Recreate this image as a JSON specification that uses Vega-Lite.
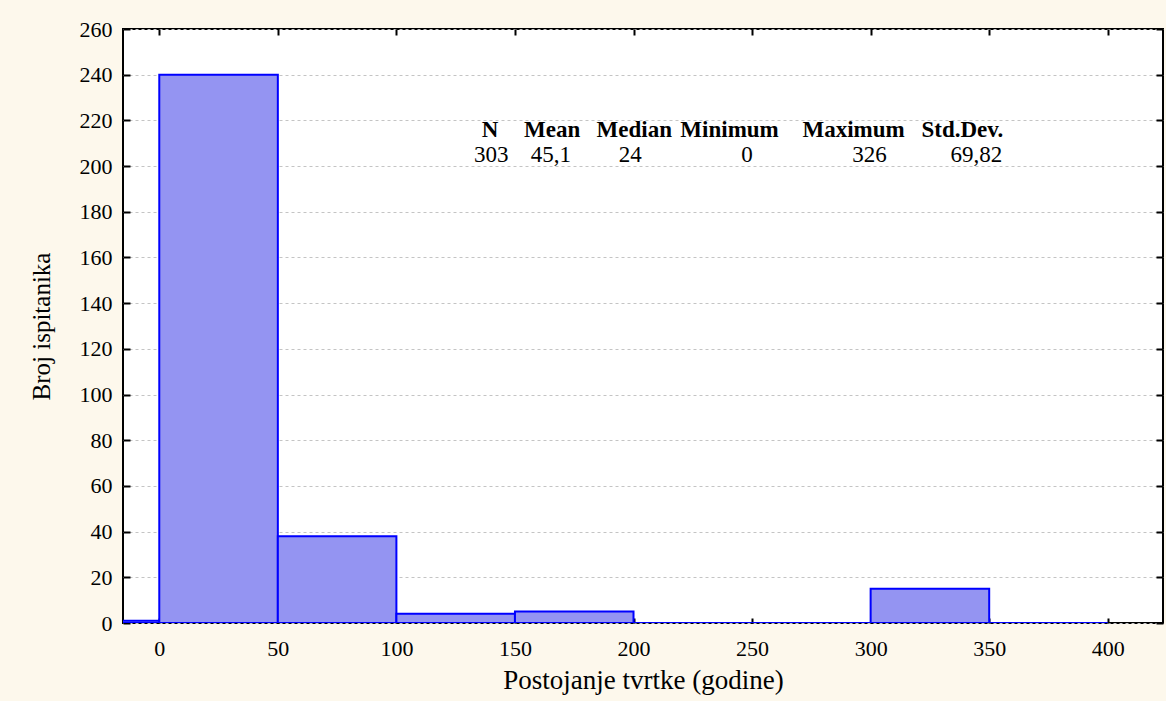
{
  "$schema": "https://vega.github.io/schema/vega-lite/v6.json",
  "width": 1040,
  "height": 594,
  "autosize": {"type": "none"},
  "padding": {"left": 123, "top": 29, "right": 3, "bottom": 78},
  "background": "#fdf8ec",
  "datasets": {
    "bins": [
      {"bin_start": -50, "bin_end": 0, "count": 1},
      {"bin_start": 0, "bin_end": 50, "count": 240},
      {"bin_start": 50, "bin_end": 100, "count": 38},
      {"bin_start": 100, "bin_end": 150, "count": 4},
      {"bin_start": 150, "bin_end": 200, "count": 5},
      {"bin_start": 200, "bin_end": 250, "count": 0},
      {"bin_start": 250, "bin_end": 300, "count": 0},
      {"bin_start": 300, "bin_end": 350, "count": 15},
      {"bin_start": 350, "bin_end": 400, "count": 0}
    ]
  },
  "config": {
    "view": {"fill": "white", "stroke": "black", "strokeWidth": 2},
    "axis": {
      "labelFont": "Liberation Serif",
      "labelFontSize": 22,
      "labelColor": "black",
      "titleFont": "Liberation Serif",
      "titleFontWeight": "normal",
      "titleColor": "black",
      "tickColor": "black",
      "tickWidth": 2,
      "domain": false,
      "gridColor": "#c4c4c4",
      "gridDash": [3, 3],
      "gridWidth": 1
    }
  },
  "resolve": {"axis": {"x": "independent", "y": "independent"}},
  "layer": [
    {
      "data": {"name": "bins"},
      "mark": {"type": "bar", "clip": true, "fill": "#9494f2", "stroke": "#0000ff", "strokeWidth": 2},
      "encoding": {
        "x": {
          "field": "bin_start", "type": "quantitative",
          "scale": {"domain": [-15.3, 423.3], "nice": false, "zero": false},
          "axis": {"orient": "bottom", "values": [0, 50, 100, 150, 200, 250, 300, 350, 400], "offset": -5, "tickSize": 5, "labelPadding": 15, "grid": false, "labelFlush": false, "title": "Postojanje tvrtke (godine)", "titleFontSize": 27, "titlePadding": 8}
        },
        "x2": {"field": "bin_end"},
        "y": {
          "field": "count", "type": "quantitative",
          "scale": {"domain": [0, 260], "nice": false},
          "axis": {"orient": "left", "values": [0, 20, 40, 60, 80, 100, 120, 140, 160, 180, 200, 220, 240, 260], "offset": -7, "tickSize": 7, "labelPadding": 11, "grid": true, "labelFlush": false, "title": "Broj ispitanika", "titleFontSize": 25, "titlePadding": 25}
        },
        "y2": {"datum": 0}
      }
    },
    {
      "data": {"name": "bins"},
      "mark": {"type": "bar", "fillOpacity": 0, "strokeOpacity": 0},
      "encoding": {
        "x": {
          "field": "bin_start", "type": "quantitative",
          "scale": {"domain": [-15.3, 423.3], "nice": false, "zero": false},
          "axis": {"orient": "top", "values": [0, 50, 100, 150, 200, 250, 300, 350, 400], "offset": -6, "tickSize": 6, "labels": false, "grid": false, "title": null}
        },
        "x2": {"field": "bin_end"},
        "y": {
          "field": "count", "type": "quantitative",
          "scale": {"domain": [0, 260], "nice": false},
          "axis": {"orient": "right", "values": [0, 20, 40, 60, 80, 100, 120, 140, 160, 180, 200, 220, 240, 260], "offset": -7, "tickSize": 7, "labels": false, "grid": false, "title": null}
        },
        "y2": {"datum": 0}
      }
    },
    {
      "data": {"values": [{"stat": "N", "value": "303"}]},
      "layer": [
        {"mark": {"type": "text", "font": "Liberation Serif", "fontSize": 23, "fontWeight": "bold", "fill": "black", "baseline": "alphabetic"},
         "encoding": {"x": {"datum": 139.5, "type": "quantitative", "scale": {"domain": [-15.3, 423.3], "nice": false, "zero": false}, "axis": null},
                      "y": {"datum": 212.7, "type": "quantitative", "scale": {"domain": [0, 260], "nice": false}, "axis": null},
                      "text": {"field": "stat"}}},
        {"mark": {"type": "text", "font": "Liberation Serif", "fontSize": 23, "fill": "black", "baseline": "alphabetic"},
         "encoding": {"x": {"datum": 140.0, "type": "quantitative", "scale": {"domain": [-15.3, 423.3], "nice": false, "zero": false}, "axis": null},
                      "y": {"datum": 202.0, "type": "quantitative", "scale": {"domain": [0, 260], "nice": false}, "axis": null},
                      "text": {"field": "value"}}}
      ]
    },
    {
      "data": {"values": [{"stat": "Mean", "value": "45,1"}]},
      "layer": [
        {"mark": {"type": "text", "font": "Liberation Serif", "fontSize": 23, "fontWeight": "bold", "fill": "black", "baseline": "alphabetic"},
         "encoding": {"x": {"datum": 165.7, "type": "quantitative", "scale": {"domain": [-15.3, 423.3], "nice": false, "zero": false}, "axis": null},
                      "y": {"datum": 212.7, "type": "quantitative", "scale": {"domain": [0, 260], "nice": false}, "axis": null},
                      "text": {"field": "stat"}}},
        {"mark": {"type": "text", "font": "Liberation Serif", "fontSize": 23, "fill": "black", "baseline": "alphabetic"},
         "encoding": {"x": {"datum": 165.1, "type": "quantitative", "scale": {"domain": [-15.3, 423.3], "nice": false, "zero": false}, "axis": null},
                      "y": {"datum": 202.0, "type": "quantitative", "scale": {"domain": [0, 260], "nice": false}, "axis": null},
                      "text": {"field": "value"}}}
      ]
    },
    {
      "data": {"values": [{"stat": "Median", "value": "24"}]},
      "layer": [
        {"mark": {"type": "text", "font": "Liberation Serif", "fontSize": 23, "fontWeight": "bold", "fill": "black", "baseline": "alphabetic"},
         "encoding": {"x": {"datum": 200.3, "type": "quantitative", "scale": {"domain": [-15.3, 423.3], "nice": false, "zero": false}, "axis": null},
                      "y": {"datum": 212.7, "type": "quantitative", "scale": {"domain": [0, 260], "nice": false}, "axis": null},
                      "text": {"field": "stat"}}},
        {"mark": {"type": "text", "font": "Liberation Serif", "fontSize": 23, "fill": "black", "baseline": "alphabetic"},
         "encoding": {"x": {"datum": 198.6, "type": "quantitative", "scale": {"domain": [-15.3, 423.3], "nice": false, "zero": false}, "axis": null},
                      "y": {"datum": 202.0, "type": "quantitative", "scale": {"domain": [0, 260], "nice": false}, "axis": null},
                      "text": {"field": "value"}}}
      ]
    },
    {
      "data": {"values": [{"stat": "Minimum", "value": "0"}]},
      "layer": [
        {"mark": {"type": "text", "font": "Liberation Serif", "fontSize": 23, "fontWeight": "bold", "fill": "black", "baseline": "alphabetic"},
         "encoding": {"x": {"datum": 240.5, "type": "quantitative", "scale": {"domain": [-15.3, 423.3], "nice": false, "zero": false}, "axis": null},
                      "y": {"datum": 212.7, "type": "quantitative", "scale": {"domain": [0, 260], "nice": false}, "axis": null},
                      "text": {"field": "stat"}}},
        {"mark": {"type": "text", "font": "Liberation Serif", "fontSize": 23, "fill": "black", "baseline": "alphabetic"},
         "encoding": {"x": {"datum": 247.9, "type": "quantitative", "scale": {"domain": [-15.3, 423.3], "nice": false, "zero": false}, "axis": null},
                      "y": {"datum": 202.0, "type": "quantitative", "scale": {"domain": [0, 260], "nice": false}, "axis": null},
                      "text": {"field": "value"}}}
      ]
    },
    {
      "data": {"values": [{"stat": "Maximum", "value": "326"}]},
      "layer": [
        {"mark": {"type": "text", "font": "Liberation Serif", "fontSize": 23, "fontWeight": "bold", "fill": "black", "baseline": "alphabetic"},
         "encoding": {"x": {"datum": 292.8, "type": "quantitative", "scale": {"domain": [-15.3, 423.3], "nice": false, "zero": false}, "axis": null},
                      "y": {"datum": 212.7, "type": "quantitative", "scale": {"domain": [0, 260], "nice": false}, "axis": null},
                      "text": {"field": "stat"}}},
        {"mark": {"type": "text", "font": "Liberation Serif", "fontSize": 23, "fill": "black", "baseline": "alphabetic"},
         "encoding": {"x": {"datum": 299.5, "type": "quantitative", "scale": {"domain": [-15.3, 423.3], "nice": false, "zero": false}, "axis": null},
                      "y": {"datum": 202.0, "type": "quantitative", "scale": {"domain": [0, 260], "nice": false}, "axis": null},
                      "text": {"field": "value"}}}
      ]
    },
    {
      "data": {"values": [{"stat": "Std.Dev.", "value": "69,82"}]},
      "layer": [
        {"mark": {"type": "text", "font": "Liberation Serif", "fontSize": 23, "fontWeight": "bold", "fill": "black", "baseline": "alphabetic"},
         "encoding": {"x": {"datum": 338.7, "type": "quantitative", "scale": {"domain": [-15.3, 423.3], "nice": false, "zero": false}, "axis": null},
                      "y": {"datum": 212.7, "type": "quantitative", "scale": {"domain": [0, 260], "nice": false}, "axis": null},
                      "text": {"field": "stat"}}},
        {"mark": {"type": "text", "font": "Liberation Serif", "fontSize": 23, "fill": "black", "baseline": "alphabetic"},
         "encoding": {"x": {"datum": 344.6, "type": "quantitative", "scale": {"domain": [-15.3, 423.3], "nice": false, "zero": false}, "axis": null},
                      "y": {"datum": 202.0, "type": "quantitative", "scale": {"domain": [0, 260], "nice": false}, "axis": null},
                      "text": {"field": "value"}}}
      ]
    }
  ]
}
